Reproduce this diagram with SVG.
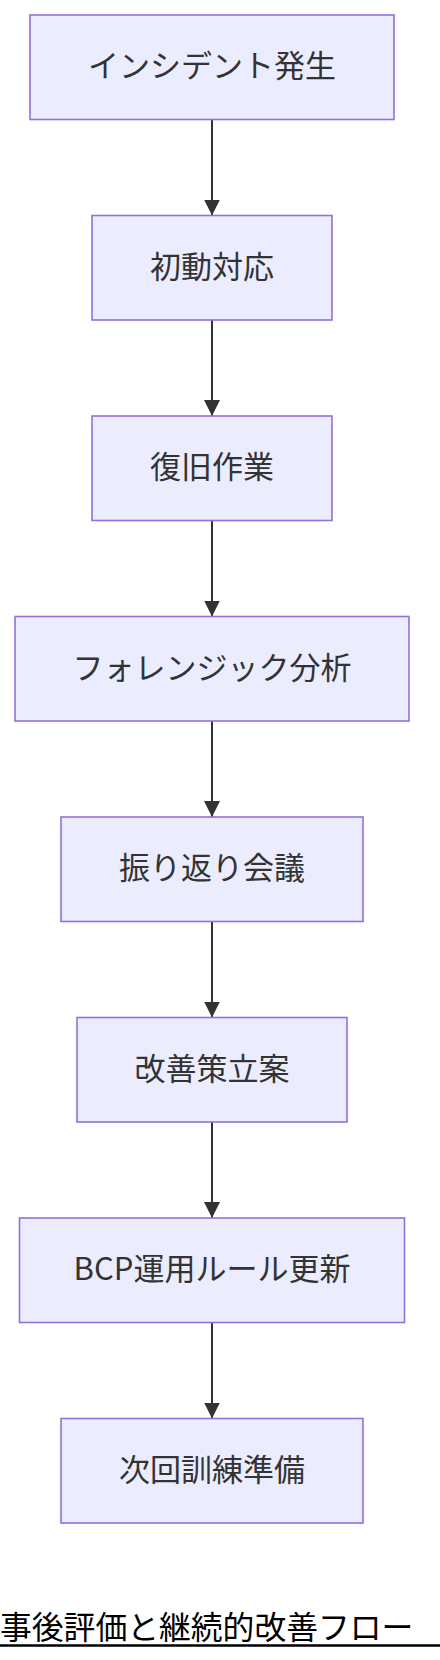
<svg xmlns="http://www.w3.org/2000/svg" width="440" height="1660" viewBox="0 0 440 1660">
<style>
.node rect{fill:#ECECFF;stroke:#9370DB;stroke-width:1.6}
.node text{font-family:"Noto Sans CJK JP","Noto Sans",sans-serif;font-size:31px;fill:#333;text-anchor:middle}
.edge{stroke:#333;stroke-width:2;fill:none}
.title{font-family:"Noto Sans CJK JP","Noto Sans",sans-serif;font-size:31.8px;fill:#000}
</style>
<defs>
<marker id="arrow" markerUnits="userSpaceOnUse" markerWidth="16" markerHeight="16" refX="16" refY="8" orient="auto" viewBox="0 0 16 16">
<path d="M0,0 L16,8 L0,16 Z" fill="#333"/>
</marker>
</defs>
<rect width="440" height="1660" fill="#fff"/>
<g id="edges">
<line class="edge" x1="212" y1="119.5" x2="212" y2="215.5" marker-end="url(#arrow)"/>
<line class="edge" x1="212" y1="320" x2="212" y2="416" marker-end="url(#arrow)"/>
<line class="edge" x1="212" y1="520.5" x2="212" y2="616.5" marker-end="url(#arrow)"/>
<line class="edge" x1="212" y1="721" x2="212" y2="817" marker-end="url(#arrow)"/>
<line class="edge" x1="212" y1="921.5" x2="212" y2="1017.5" marker-end="url(#arrow)"/>
<line class="edge" x1="212" y1="1122" x2="212" y2="1218" marker-end="url(#arrow)"/>
<line class="edge" x1="212" y1="1322.5" x2="212" y2="1418.5" marker-end="url(#arrow)"/>
</g>
<g id="n1" class="node"><rect x="30" y="15" width="364" height="104.5"/><text x="212" y="77">インシデント発生</text></g>
<g id="n2" class="node"><rect x="92" y="215.5" width="240" height="104.5"/><text x="212" y="277.5">初動対応</text></g>
<g id="n3" class="node"><rect x="92" y="416" width="240" height="104.5"/><text x="212" y="478">復旧作業</text></g>
<g id="n4" class="node"><rect x="15" y="616.5" width="394" height="104.5"/><text x="212" y="678.5">フォレンジック分析</text></g>
<g id="n5" class="node"><rect x="61" y="817" width="302" height="104.5"/><text x="212" y="879">振り返り会議</text></g>
<g id="n6" class="node"><rect x="77" y="1017.5" width="270" height="104.5"/><text x="212" y="1079.5">改善策立案</text></g>
<g id="n7" class="node"><rect x="19.5" y="1218" width="385" height="104.5"/><text x="212" y="1280">BCP運用ルール更新</text></g>
<g id="n8" class="node"><rect x="61" y="1418.5" width="302" height="104.5"/><text x="212" y="1480.5">次回訓練準備</text></g>
<g id="title">
<text class="title" x="0" y="1639">事後評価と継続的改善フロー</text>
<line x1="0" y1="1645.5" x2="440" y2="1645.5" stroke="#000" stroke-width="2.5"/>
</g>
</svg>
